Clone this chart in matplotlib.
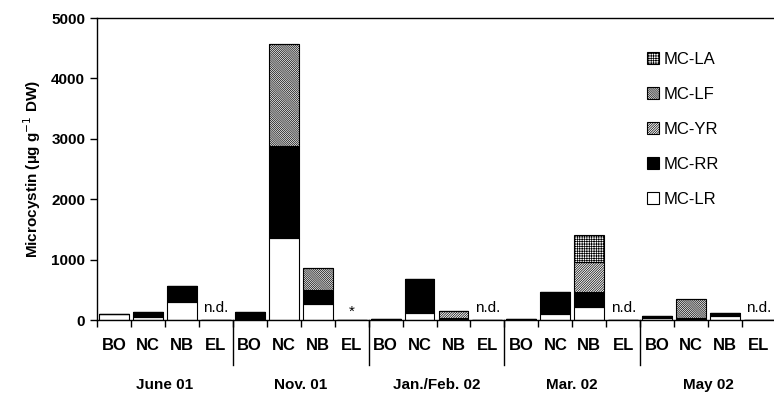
import numpy as np
import matplotlib
matplotlib.use("Agg")
from matplotlib import pyplot as plt

plt.rcParams['font.family'] = ['Liberation Sans', 'DejaVu Sans']
plt.rcParams['hatch.linewidth'] = 0.5

# sampling sites and months
sites = ['BO', 'NC', 'NB', 'EL']
months = ['June 01', 'Nov. 01', 'Jan./Feb. 02', 'Mar. 02', 'May 02']

# microcystin variants, ug/g DW (20 bars: 5 months x 4 sites)
mc_lr = [100, 50, 300, 0, 0, 1350, 260, 0, 10, 110, 15, 0, 10, 100, 215, 0, 25, 5, 70, 0]
mc_rr = [0, 80, 260, 0, 140, 1530, 240, 0, 0, 570, 20, 0, 0, 360, 245, 0, 35, 30, 45, 0]
mc_yr = [0, 0, 0, 0, 0, 0, 0, 0, 0, 0, 120, 0, 0, 0, 500, 0, 0, 0, 0, 0]
mc_lf = [0, 0, 0, 0, 0, 1690, 365, 0, 0, 0, 0, 0, 0, 0, 0, 0, 0, 310, 0, 0]
mc_la = [0, 0, 0, 0, 0, 0, 0, 0, 0, 0, 0, 0, 0, 0, 440, 0, 0, 0, 0, 0]

# marks above empty bars
notes = {3: 'n.d.', 7: '*', 11: 'n.d.', 15: 'n.d.', 19: 'n.d.'}

fig = plt.figure(figsize=(7.74, 3.97), dpi=100)
ax = fig.add_axes([97 / 774, 77 / 397, 679 / 774, 302 / 397])

x = np.arange(len(mc_lr)) + 0.5
w = 0.88
series = [
    (mc_lr, 'white', '', 'MC-LR'),
    (mc_rr, 'black', '', 'MC-RR'),
    (mc_yr, 'white', '/' * 14, 'MC-YR'),
    (mc_lf, 'white', '\\' * 16, 'MC-LF'),
    (mc_la, 'white', '+' * 7, 'MC-LA'),
]
bottom = np.zeros(len(x))
handles = []
for vals, col, hatch, lab in series:
    vals = np.array(vals, dtype=float)
    b = ax.bar(x, vals, w, bottom=bottom, color=col, edgecolor='black',
               linewidth=0.8, hatch=hatch, label=lab)
    handles.append(b)
    bottom += vals

for i, t in notes.items():
    if t == '*':
        ax.text(x[i], 130, t, ha='center', va='center', fontsize=11)
    else:
        ax.text(x[i], 80, t, ha='center', va='bottom', fontsize=11)

ax.set_xlim(0, 20)
ax.set_ylim(0, 5000)
ax.set_yticks(np.arange(0, 5001, 1000))
ax.tick_params(axis='y', direction='out', length=5, width=1, labelsize=11)
for lbl in ax.get_yticklabels():
    lbl.set_fontweight('bold')
ax.set_ylabel(r'Microcystin (µg g$^{-1}$ DW)', fontsize=11, fontweight='bold', labelpad=6)

ax.set_xticks(np.arange(0, 21), minor=True)
ax.set_xticks([])
ax.tick_params(axis='x', which='minor', direction='out', length=5, width=1)
ax.spines['right'].set_visible(False)
for s in ['left', 'bottom', 'top']:
    ax.spines[s].set_linewidth(1)

trans = ax.get_xaxis_transform()
for k in range(1, 5):
    ax.plot([4 * k, 4 * k], [0, -0.15], color='black', lw=1, transform=trans, clip_on=False)
for i, xi in enumerate(x):
    ax.text(xi, -0.085, sites[i % 4], transform=trans, ha='center', va='center',
            fontsize=12, fontweight='bold')
for m, lab in enumerate(months):
    ax.text(4 * m + 2, -0.215, lab, transform=trans, ha='center', va='center',
            fontsize=11, fontweight='bold')

ax.legend(handles[::-1], [h.get_label() for h in handles[::-1]], frameon=False,
          loc='upper left', bbox_to_anchor=(632 / 774, 360 / 397), bbox_transform=fig.transFigure,
          handlelength=0.7, handleheight=0.7, handletextpad=0.3, labelspacing=1.2, fontsize=12)

fig.savefig('out.png', dpi=100)
